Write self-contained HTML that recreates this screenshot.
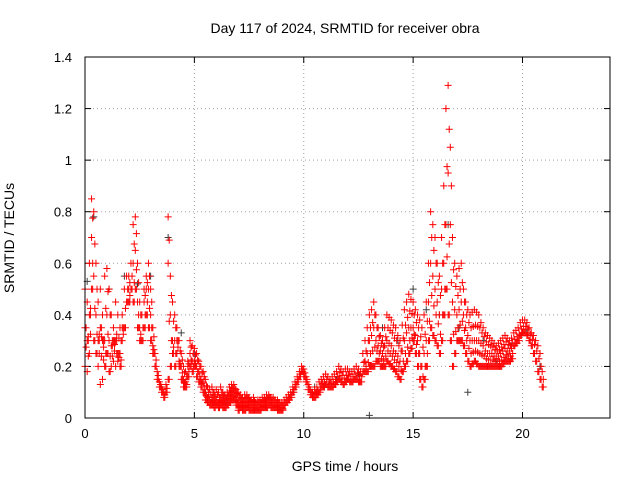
<!DOCTYPE html>
<html><head><meta charset="utf-8"><style>
body{margin:0;background:#fff;}
svg{display:block;font-family:"Liberation Sans",sans-serif;}
</style></head><body>
<svg id="chart" width="640" height="480">
<text x="345" y="33" font-size="14" text-anchor="middle">Day 117 of 2024, SRMTID for receiver obra</text>
<text x="345" y="471" font-size="14" text-anchor="middle">GPS time / hours</text>
<text x="14" y="238" font-size="14" text-anchor="middle" transform="rotate(-90 14 238)">SRMTID / TECUs</text>
<g id="grid"></g><g id="ticks"></g><g id="marks"></g>
<rect x="85" y="57" width="525" height="361" fill="none" stroke="#000" stroke-width="1"/>
</svg>
<script>
const xTicks=[0,5,10,15,20];
const yTicks=[0,0.2,0.4,0.6,0.8,1,1.2,1.4];
const yTickLabels=["0","0.2","0.4","0.6","0.8","1","1.2","1.4"];
const redRows=[
[0.0,0.5,0.2,0.35],[0.1,0.45,0.18,0.3],[0.2,0.6,0.25,0.4],[0.3,0.85,0.7,0.5],[0.4,0.8,0.55,0.3],[0.5,0.6,0.4,0.25],[0.6,0.45,0.2,0.3],[0.7,0.5,0.13,0.35],[0.8,0.4,0.15,0.3],[0.9,0.55,0.3,0.2],
[1.0,0.58,0.4,0.25],[1.1,0.5,0.3,0.18],[1.2,0.4,0.2,0.28],[1.3,0.35,0.22,0.3],[1.4,0.45,0.2,0.3],[1.5,0.4,0.22,0.25],[1.6,0.35,0.25,0.2],[1.7,0.4,0.3,0.35],[1.8,0.5,0.35],[1.9,0.55,0.45],
[2.0,0.55,0.5,0.45],[2.1,0.6,0.5],[2.2,0.75,0.6,0.45],[2.3,0.78,0.65,0.5],[2.4,0.6,0.45,0.35],[2.5,0.45,0.35,0.3],[2.6,0.4,0.3],[2.7,0.5,0.45,0.35],[2.8,0.55,0.5,0.4],[2.9,0.6,0.5,0.35],
[3.0,0.5,0.4,0.3],[3.1,0.35,0.28,0.25],[3.2,0.25,0.2],[3.3,0.18,0.15],[3.4,0.14,0.12],[3.5,0.12,0.1],[3.6,0.1,0.08],[3.7,0.13,0.1],[3.8,0.78,0.6,0.15],[3.9,0.55,0.4,0.2],
[4.0,0.45,0.3,0.25],[4.1,0.4,0.3,0.2],[4.2,0.35,0.25,0.3],[4.3,0.3,0.22,0.2],[4.4,0.25,0.2,0.15],[4.5,0.2,0.15,0.12],[4.6,0.18,0.14,0.12],[4.7,0.22,0.2,0.16],[4.8,0.3,0.25,0.2],[4.9,0.28,0.22,0.18],
[5.0,0.27,0.22,0.2],[5.1,0.25,0.2,0.16],[5.2,0.22,0.18,0.14],[5.3,0.2,0.15,0.12],[5.4,0.18,0.14,0.1],[5.5,0.15,0.1,0.07],[5.6,0.12,0.08,0.06],[5.7,0.11,0.07,0.05],[5.8,0.12,0.08,0.05],[5.9,0.1,0.07,0.04],
[6.0,0.11,0.07,0.05],[6.1,0.1,0.06,0.04],[6.2,0.12,0.08,0.05],[6.3,0.1,0.07,0.04],[6.4,0.09,0.06,0.04],[6.5,0.1,0.07,0.05],[6.6,0.12,0.09,0.06],[6.7,0.13,0.1,0.07],[6.8,0.13,0.1,0.07],[6.9,0.11,0.08,0.05],
[7.0,0.1,0.06,0.03],[7.1,0.09,0.06,0.04],[7.2,0.08,0.05,0.03],[7.3,0.09,0.06,0.03],[7.4,0.09,0.06,0.04],[7.5,0.08,0.05,0.03],[7.6,0.07,0.05,0.03],[7.7,0.08,0.05,0.03],[7.8,0.06,0.04,0.03],[7.9,0.07,0.05,0.03],
[8.0,0.07,0.05,0.03],[8.1,0.08,0.05,0.04],[8.2,0.08,0.06,0.04],[8.3,0.09,0.06,0.04],[8.4,0.09,0.07,0.05],[8.5,0.08,0.06,0.04],[8.6,0.08,0.06,0.04],[8.7,0.07,0.05,0.04],[8.8,0.07,0.05,0.03],[8.9,0.06,0.04,0.03],
[9.0,0.06,0.04,0.03],[9.1,0.07,0.05],[9.2,0.08,0.06],[9.3,0.09,0.07],[9.4,0.1,0.08],[9.5,0.12,0.1],[9.6,0.14,0.12],[9.7,0.16,0.14],[9.8,0.18,0.16],[9.9,0.2,0.18],
[10.0,0.19,0.16],[10.1,0.16,0.14],[10.2,0.13,0.11],[10.3,0.11,0.09],[10.4,0.1,0.08],[10.5,0.11,0.08],[10.6,0.12,0.09],[10.7,0.14,0.1],[10.8,0.15,0.12],[10.9,0.16,0.12],
[11.0,0.17,0.13],[11.1,0.16,0.12],[11.2,0.15,0.12],[11.3,0.16,0.12],[11.4,0.17,0.13],[11.5,0.18,0.14],[11.6,0.2,0.15],[11.7,0.19,0.14],[11.8,0.18,0.13],[11.9,0.19,0.14],
[12.0,0.19,0.15],[12.1,0.18,0.14],[12.2,0.18,0.14],[12.3,0.19,0.15],[12.4,0.2,0.15],[12.5,0.19,0.14],[12.6,0.18,0.14],[12.7,0.25,0.18],[12.8,0.3,0.22,0.18],[12.9,0.35,0.25,0.18],
[13.0,0.4,0.3,0.2],[13.1,0.42,0.32,0.2],[13.2,0.45,0.35,0.2],[13.3,0.4,0.3,0.22],[13.4,0.35,0.28,0.22],[13.5,0.32,0.26,0.2],[13.6,0.3,0.25,0.2],[13.7,0.35,0.28,0.2],[13.8,0.4,0.3,0.22],[13.9,0.39,0.29,0.21],
[14.0,0.38,0.28,0.2],[14.1,0.36,0.26,0.19],[14.2,0.35,0.25,0.18],[14.3,0.32,0.24,0.16],[14.4,0.3,0.22,0.15],[14.5,0.36,0.26,0.18],[14.6,0.42,0.3,0.2],[14.7,0.45,0.33,0.22],[14.8,0.48,0.35,0.25],[14.9,0.46,0.35,0.27],
[15.0,0.45,0.35,0.3],[15.1,0.42,0.32,0.25],[15.2,0.4,0.3,0.2],[15.3,0.38,0.25,0.15],[15.4,0.35,0.2,0.12],[15.5,0.4,0.25,0.15],[15.6,0.45,0.3,0.2],[15.7,0.6,0.45,0.3],[15.8,0.8,0.6,0.35],[15.9,0.75,0.55,0.32],
[16.0,0.7,0.5,0.3],[16.1,0.6,0.45,0.28],[16.2,0.55,0.4,0.25],[16.3,0.7,0.5,0.3],[16.4,0.9,0.6,0.4],[16.5,1.2,0.75,0.5],[16.6,1.29,0.95,0.4],[16.7,1.05,0.75,0.3],[16.8,0.7,0.45,0.2],[16.9,0.6,0.42,0.25],
[17.0,0.55,0.4,0.3],[17.1,0.58,0.42,0.3],[17.2,0.6,0.45,0.3],[17.3,0.5,0.4,0.28],[17.4,0.45,0.35,0.25],[17.5,0.42,0.32,0.22],[17.6,0.4,0.3,0.2],[17.7,0.41,0.3,0.21],[17.8,0.42,0.3,0.22],[17.9,0.41,0.3,0.21],
[18.0,0.4,0.3,0.2],[18.1,0.37,0.29,0.2],[18.2,0.35,0.28,0.2],[18.3,0.33,0.26,0.2],[18.4,0.32,0.25,0.2],[18.5,0.31,0.25,0.2],[18.6,0.3,0.25,0.2],[18.7,0.29,0.24,0.2],[18.8,0.28,0.24,0.2],[18.9,0.29,0.24,0.2],
[19.0,0.3,0.25,0.2],[19.1,0.31,0.26,0.21],[19.2,0.32,0.27,0.22],[19.3,0.31,0.26,0.22],[19.4,0.3,0.26,0.22],[19.5,0.31,0.27,0.23],[19.6,0.33,0.28],[19.7,0.34,0.29],[19.8,0.35,0.3],[19.9,0.37,0.32],
[20.0,0.38,0.33],[20.1,0.38,0.33],[20.2,0.37,0.32],[20.3,0.35,0.3],[20.4,0.33,0.28],[20.5,0.32,0.25],[20.6,0.3,0.22],[20.7,0.28,0.18],[20.8,0.25,0.15],[20.9,0.18,0.12]
];
const grayTimes=[0.1,0.4,1.1,1.8,2.4,3.0,3.8,4.4,5.0,5.5,6.5,7.5,8.5,9.5,10.5,11.5,12.5,13.0,13.6,14.3,15.0,15.6,16.2,16.6,17.1,17.5,18.2,18.8,19.5,20.2,20.8];
const grayValues=[0.53,0.78,0.5,0.55,0.52,0.55,0.7,0.33,0.25,0.1,0.07,0.05,0.06,0.1,0.12,0.15,0.17,0.01,0.35,0.3,0.5,0.42,0.4,0.75,0.35,0.1,0.3,0.22,0.28,0.33,0.2];

const X0=85,X1=610,Y0=418,Y1=57;
const xs=t=>X0+t/24*(X1-X0);
const ys=v=>Y0-v/1.4*(Y0-Y1);
const NS="http://www.w3.org/2000/svg";
const grid=document.getElementById('grid'),ticks=document.getElementById('ticks'),marks=document.getElementById('marks');
function mk(tag,attrs,parent){const e=document.createElementNS(NS,tag);for(const k in attrs)e.setAttribute(k,attrs[k]);parent.appendChild(e);return e;}
xTicks.forEach(t=>{
  const x=xs(t);
  if(t>0){const g=mk('line',{x1:x,x2:x,y1:Y0,y2:Y1,stroke:'#a0a0a0','stroke-dasharray':'1,3'},grid);
  
  }
  mk('line',{x1:x,x2:x,y1:Y0,y2:Y0-6,stroke:'#000'},ticks);
  mk('line',{x1:x,x2:x,y1:Y1,y2:Y1+6,stroke:'#000'},ticks);
  const l=mk('text',{x:x,y:Y0+20,'font-size':13,'text-anchor':'middle'},ticks);l.textContent=t;
  
  
});
yTicks.forEach((v,i)=>{
  const y=ys(v);
  if(v>0&&v<1.4){const g=mk('line',{x1:X0,x2:X1,y1:y,y2:y,stroke:'#a0a0a0','stroke-dasharray':'1,3'},grid);
  
  }
  mk('line',{x1:X0,x2:X0+6,y1:y,y2:y,stroke:'#000'},ticks);
  mk('line',{x1:X1,x2:X1-6,y1:y,y2:y,stroke:'#000'},ticks);
  const l=mk('text',{x:X0-13,y:y+5,'font-size':13,'text-anchor':'end'},ticks);l.textContent=yTickLabels[i];
  
  
});
function plus(x,y){return 'M'+(x-3.5)+' '+y+'h7M'+x+' '+(y-3.5)+'v7';}
let gd='';
grayTimes.forEach((t,i)=>{gd+=plus(xs(t),ys(grayValues[i]));});
const gp=mk('path',{d:gd,stroke:'#404040','stroke-width':1,fill:'none'},marks);


let rd='';
redRows.forEach(r=>{const t=r[0];for(let k=1;k<r.length;k++){rd+=plus(xs(t),ys(r[k]));rd+=plus(xs(t+0.05),ys((r[k]+(r[k+1]!==undefined?r[k+1]:r[k]))/2));}});
const rp=mk('path',{d:rd,stroke:'#ff0000','stroke-width':1,fill:'none'},marks);


</script>
</body></html>
